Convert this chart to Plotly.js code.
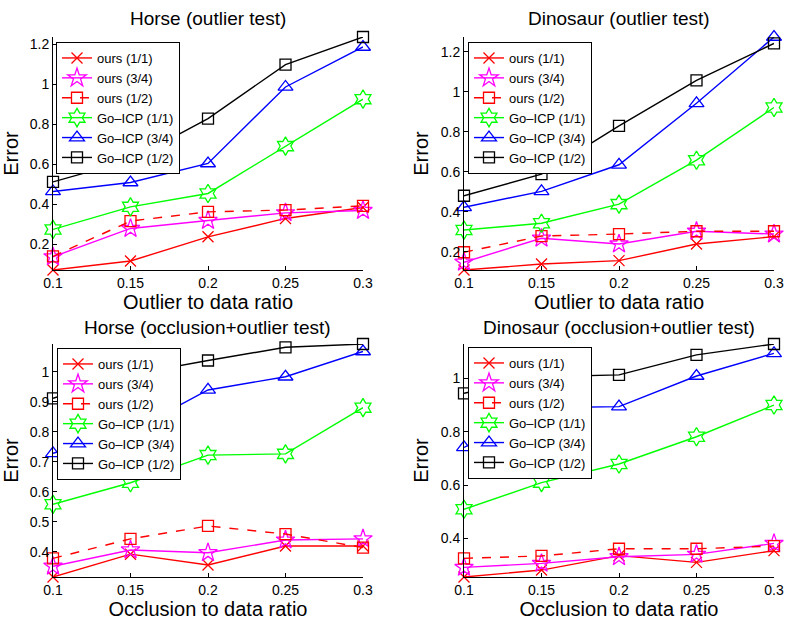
<!DOCTYPE html>
<html><head><meta charset="utf-8">
<script src="https://cdn.plot.ly/plotly-3.0.1.min.js"></script>
<style>html,body{margin:0;padding:0;background:#fff}</style>
</head><body><div id="chart" style="width:793px;height:622px"></div>
<script>
const ratios = [0.1, 0.15, 0.2, 0.25, 0.3];
const seriesNames = ['ours (1/1)', 'ours (3/4)', 'ours (1/2)', 'Go–ICP (1/1)', 'Go–ICP (3/4)', 'Go–ICP (1/2)'];
const panelTitles = ['Horse (outlier test)', 'Dinosaur (outlier test)', 'Horse (occlusion+outlier test)', 'Dinosaur (occlusion+outlier test)'];
const xTitles = ['Outlier to data ratio', 'Outlier to data ratio', 'Occlusion to data ratio', 'Occlusion to data ratio'];
const yTitle = 'Error';

// series order: ours(1/1), ours(3/4), ours(1/2), Go-ICP(1/1), Go-ICP(3/4), Go-ICP(1/2)
const horseOutlier = [
  [0.072, 0.117, 0.238, 0.330, 0.385],
  [0.138, 0.280, 0.320, 0.358, 0.370],
  [0.140, 0.317, 0.363, 0.372, 0.393],
  [0.275, 0.388, 0.455, 0.692, 0.927],
  [0.465, 0.510, 0.605, 0.988, 1.188],
  [0.513, 0.622, 0.830, 1.100, 1.238]
];
const dinoOutlier = [
  [0.108, 0.138, 0.155, 0.238, 0.275],
  [0.147, 0.267, 0.238, 0.302, 0.288],
  [0.197, 0.278, 0.288, 0.302, 0.302],
  [0.308, 0.342, 0.438, 0.658, 0.922],
  [0.422, 0.502, 0.635, 0.943, 1.275],
  [0.480, 0.588, 0.830, 1.058, 1.243]
];
const horseOcclusion = [
  [0.316, 0.392, 0.356, 0.419, 0.419],
  [0.352, 0.406, 0.397, 0.439, 0.443],
  [0.378, 0.443, 0.486, 0.459, 0.414],
  [0.558, 0.630, 0.722, 0.726, 0.880],
  [0.728, 0.800, 0.939, 0.983, 1.067],
  [0.911, 0.990, 1.037, 1.081, 1.092]
];
const dinoOcclusion = [
  [0.255, 0.281, 0.335, 0.310, 0.354],
  [0.291, 0.306, 0.331, 0.340, 0.381],
  [0.325, 0.334, 0.361, 0.361, 0.371],
  [0.509, 0.609, 0.679, 0.781, 0.900],
  [0.741, 0.890, 0.894, 1.009, 1.094],
  [0.944, 1.006, 1.013, 1.088, 1.129]
];
const panels = [horseOutlier, dinoOutlier, horseOcclusion, dinoOcclusion];
const yTickStep = [0.2, 0.2, 0.1, 0.2];

const styles = [
  {color: '#ff0000', symbol: 'x-thin-open', size: 11, dash: 'solid'},
  {color: '#ff00ff', symbol: 'star-open', size: 14, dash: 'solid'},
  {color: '#ff0000', symbol: 'square-open', size: 11, dash: 'dash'},
  {color: '#00ff00', symbol: 'hexagram-open', size: 14, dash: 'solid'},
  {color: '#0000ff', symbol: 'triangle-up-open', size: 13, dash: 'solid'},
  {color: '#000000', symbol: 'square-open', size: 11, dash: 'solid'}
];

const W = 793, H = 622;
const colsPx = [[53, 363], [464, 774]];
const rowsPx = [[37, 270], [344, 577]];
const legendPx = [[56, 42], [468, 42], [57, 348], [468, 347]];
const titleYpx = [18, 327];
const font = 'Liberation Sans, Arial, Helvetica, sans-serif';

const traces = [];
const layout = {
  width: W, height: H, margin: {l: 0, r: 0, t: 0, b: 0},
  paper_bgcolor: '#fff', plot_bgcolor: '#fff',
  font: {family: font, color: '#000', size: 14},
  annotations: [], showlegend: true
};

panels.forEach((series, p) => {
  const col = p % 2, row = Math.floor(p / 2);
  const xa = p === 0 ? 'x' : 'x' + (p + 1);
  const ya = p === 0 ? 'y' : 'y' + (p + 1);
  const lg = p === 0 ? 'legend' : 'legend' + (p + 1);
  series.forEach((vals, s) => {
    const st = styles[s];
    traces.push({
      x: ratios, y: vals, name: seriesNames[s], type: 'scatter', mode: 'lines+markers',
      xaxis: xa, yaxis: ya, legend: lg, cliponaxis: false,
      line: {color: st.color, width: 1.4, dash: st.dash},
      marker: {symbol: st.symbol, size: st.size, color: st.color, line: {color: st.color, width: 1.3}}
    });
  });
  const all = series.flat();
  const ymin = Math.min(...all), ymax = Math.max(...all);
  const xd = [colsPx[col][0] / W, colsPx[col][1] / W];
  const yd = [1 - rowsPx[row][1] / H, 1 - rowsPx[row][0] / H];
  const axCommon = {
    showline: true, linecolor: '#000', linewidth: 1, mirror: false,
    ticks: 'inside', ticklen: 4, tickwidth: 1, tickcolor: '#000',
    showgrid: false, zeroline: false, automargin: false,
    tickfont: {size: 14, family: font, color: '#000'}
  };
  layout['xaxis' + (p === 0 ? '' : p + 1)] = Object.assign({}, axCommon, {
    domain: xd, range: [ratios[0], ratios[ratios.length - 1]], anchor: ya,
    tickmode: 'array', tickvals: ratios, ticktext: ratios.map(String),
    title: {text: xTitles[p], font: {size: 20, family: font}, standoff: 4}
  });
  layout['yaxis' + (p === 0 ? '' : p + 1)] = Object.assign({}, axCommon, {
    domain: yd, range: [ymin, ymax], anchor: xa,
    tick0: 0, dtick: yTickStep[p],
    title: {text: yTitle, font: {size: 20, family: font}, standoff: 6}
  });
  layout[lg] = {
    x: legendPx[p][0] / W, y: 1 - legendPx[p][1] / H, xanchor: 'left', yanchor: 'top',
    bgcolor: '#fff', bordercolor: '#000', borderwidth: 1,
    font: {size: 13, family: font, color: '#000'}, itemwidth: 30, tracegroupgap: 0
  };
  layout.annotations.push({
    text: panelTitles[p], xref: 'paper', yref: 'paper', showarrow: false,
    x: (xd[0] + xd[1]) / 2, y: 1 - titleYpx[row] / H, xanchor: 'center', yanchor: 'middle',
    font: {size: 19, family: font, color: '#000'}
  });
});

Plotly.newPlot('chart', traces, layout, {staticPlot: true, displayModeBar: false});
</script></body></html>
